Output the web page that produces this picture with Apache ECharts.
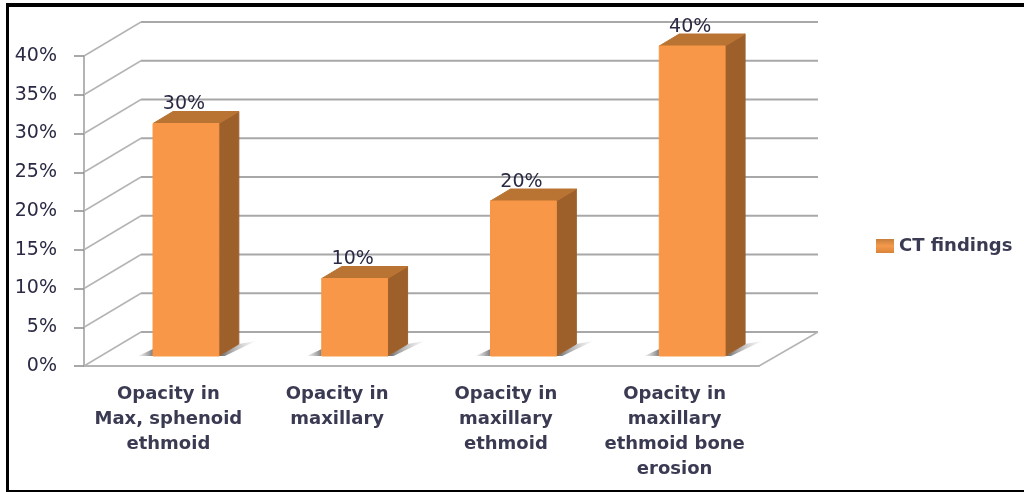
<!DOCTYPE html>
<html>
<head>
<meta charset="utf-8">
<style>html,body{margin:0;padding:0;background:#fff}#chart{width:1024px;height:492px}</style>
<script src="https://cdn.jsdelivr.net/npm/echarts@6/dist/echarts.min.js"></script>
</head>
<body>
<div id="chart"></div>
<script>
// CT findings, as a pseudo-3D column chart
const categories = [
  'Opacity in\nMax, sphenoid\nethmoid',
  'Opacity in\nmaxillary',
  'Opacity in\nmaxillary\nethmoid',
  'Opacity in\nmaxillary\nethmoid bone\nerosion'
];
const seriesName = 'CT findings';
const findings = [30, 10, 20, 40];
const wallTicks = [0, 5, 10, 15, 20, 25, 30, 35, 40];

const FONT = '"DejaVu Sans"';
const TEXT = '#2a2a44';
const SOFT_TEXT = '#3a3a52';
const AXIS = '#b4b4b4';
const GRID = '#a8a8a8';

// Back wall and floor: each tick runs diagonally to the back, then across
function renderWall(params, api) {
  const v = api.value(0);
  const y = api.coord([0, v])[1];
  const cs = params.coordSys;
  const dx = 57, dy = 34;
  const children = [{
    type: 'line',
    shape: { x1: cs.x, y1: y, x2: cs.x + dx, y2: y - dy },
    style: { stroke: '#b4b4b4', lineWidth: 1.5 }
  }, {
    type: 'line',
    shape: { x1: cs.x + dx, y1: y - dy, x2: cs.x + cs.width + dx + 2, y2: y - dy },
    style: { stroke: GRID, lineWidth: 2 }
  }];
  if (v === 0) {
    children.push({
      type: 'line',
      shape: { x1: cs.x + cs.width, y1: y, x2: cs.x + cs.width + dx + 2, y2: y - dy },
      style: { stroke: '#b4b4b4', lineWidth: 1.5 }
    });
  }
  return { type: 'group', children };
}

// One column: floor shadow, side, top and front faces, value label
function renderColumn(params, api) {
  const v = api.value(1);
  const base = api.coord([api.value(0), 0]);
  const top = api.coord([api.value(0), v]);
  const band = api.size([1, 0])[0];
  const lift = 10, w = band * 0.39, cx = base[0] + band * 0.104;
  const l = cx - w / 2, r = cx + w / 2;
  const b = base[1] - lift, t = top[1] - lift;
  const sx = 20, sy = 12;
  const face = (points, fill) => ({
    type: 'polygon',
    shape: { points },
    style: { fill, stroke: fill, lineWidth: 1, lineJoin: 'round' }
  });
  const shade = (from, to) => ({
    type: 'linear', x: 0, y: 0, x2: 1, y2: 0,
    colorStops: [{ offset: 0, color: from }, { offset: 1, color: to }]
  });
  return {
    type: 'group',
    children: [
      {
        type: 'polygon',
        shape: { points: [[l - 15, b], [l, b - 7], [l, b]] },
        style: { fill: shade('rgba(150,150,150,0.1)', 'rgba(110,110,110,0.9)') }
      },
      {
        type: 'polygon',
        shape: { points: [[r, b], [r + sx, b - sy], [r + sx + 17, b - 15], [r + 6, b]] },
        style: { fill: shade('rgba(90,90,90,0.95)', 'rgba(190,190,190,0.1)') }
      },
      face([[r, b], [r + sx, b - sy], [r + sx, t - sy], [r, t]], '#9e602b'),
      face([[l, t], [l + sx, t - sy], [r + sx, t - sy], [r, t]], '#b97434'),
      face([[l, b], [l, t], [r, t], [r, b]], '#f89747'),
      {
        type: 'text',
        style: {
          x: cx - 2, y: t - 19, text: v + '%',
          align: 'center', verticalAlign: 'middle',
          font: '19px ' + FONT, fill: TEXT
        }
      }
    ]
  };
}

const chart = echarts.init(document.getElementById('chart'), null, { renderer: 'canvas' });
chart.setOption({
  animation: false,
  backgroundColor: '#fff',
  grid: { left: 84, top: 56, width: 675, height: 310 },
  legend: {
    left: 871, top: 232, itemWidth: 18, itemHeight: 14, itemGap: 4,
    icon: 'rect', data: [seriesName],
    textStyle: { fontFamily: FONT, fontSize: 18, fontWeight: 'bold', color: SOFT_TEXT, padding: [0, 0, 0, 0] }
  },
  xAxis: {
    type: 'category', data: categories,
    axisLine: { lineStyle: { color: AXIS, width: 2 } },
    axisTick: { length: 8, lineStyle: { color: '#8c8c8c', width: 1.5 } },
    axisLabel: {
      interval: 0, margin: 16, lineHeight: 25,
      fontFamily: FONT, fontSize: 18, fontWeight: 'bold', color: SOFT_TEXT
    }
  },
  yAxis: {
    type: 'value', min: 0, max: 40, interval: 5,
    splitLine: { show: false },
    axisLine: { show: true, lineStyle: { color: AXIS, width: 2 } },
    axisTick: { show: true, length: 10, lineStyle: { color: '#8c8c8c', width: 1.5 } },
    axisLabel: {
      margin: 27, formatter: '{value}%', padding: [3, 0, 0, 0],
      fontFamily: FONT, fontSize: 19, color: TEXT
    }
  },
  series: [
    {
      type: 'custom', name: 'wall', silent: true, clip: false, z: 1,
      coordinateSystem: 'cartesian2d',
      encode: { y: 0 },
      data: wallTicks.map(v => [v]),
      renderItem: renderWall
    },
    {
      type: 'custom', name: seriesName, clip: false, z: 2,
      coordinateSystem: 'cartesian2d',
      encode: { x: 0, y: 1 },
      itemStyle: {
        color: {
          type: 'linear', x: 0, y: 0, x2: 0, y2: 1,
          colorStops: [{ offset: 0, color: '#c77f3c' }, { offset: 0.5, color: '#f59a4c' }, { offset: 1, color: '#d98338' }]
        }
      },
      data: findings.map((v, i) => [i, v]),
      renderItem: renderColumn
    }
  ],
  graphic: [
    { type: 'rect', shape: { x: 6, y: 3, width: 1018, height: 4 }, style: { fill: '#000' } },
    { type: 'rect', shape: { x: 6, y: 3, width: 3, height: 489 }, style: { fill: '#000' } },
    { type: 'rect', shape: { x: 6, y: 490, width: 1018, height: 2 }, style: { fill: '#000' } }
  ]
});
</script>
</body>
</html>
